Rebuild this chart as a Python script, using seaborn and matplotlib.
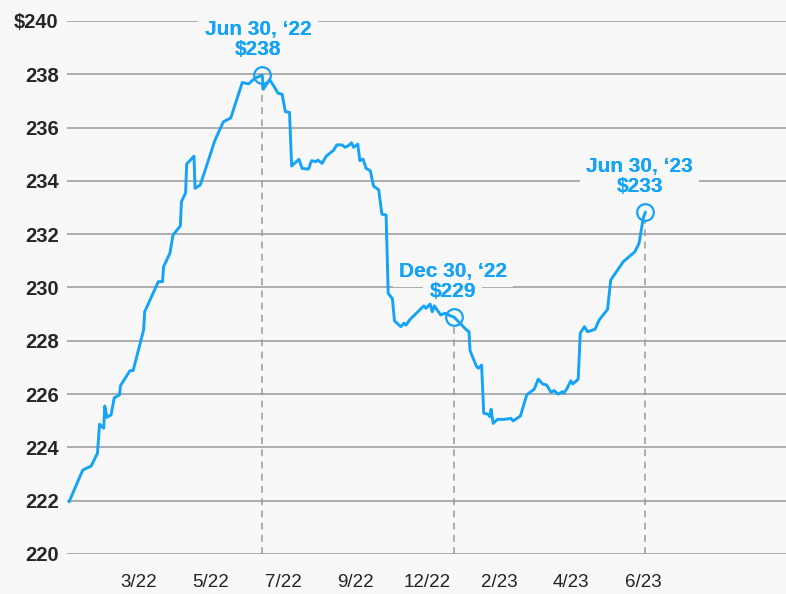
import pandas as pd
import matplotlib.pyplot as plt
import seaborn as sns
from matplotlib import font_manager

# price readings (date, $)
dates = ['2021-12-28', '2022-01-10', '2022-01-18', '2022-01-24', '2022-01-26', '2022-01-30', '2022-01-31',
         '2022-02-02', '2022-02-06', '2022-02-09', '2022-02-14', '2022-02-15', '2022-02-24', '2022-02-27',
         '2022-03-09', '2022-03-10', '2022-03-23', '2022-03-27', '2022-03-28', '2022-04-03', '2022-04-06',
         '2022-04-13', '2022-04-14', '2022-04-18', '2022-04-19', '2022-04-26', '2022-04-27', '2022-05-02',
         '2022-05-16', '2022-05-24', '2022-05-31', '2022-06-11', '2022-06-17', '2022-06-23', '2022-06-30',
         '2022-07-01', '2022-07-07', '2022-07-11', '2022-07-15', '2022-07-19', '2022-07-22', '2022-07-26',
         '2022-07-28', '2022-08-04', '2022-08-07', '2022-08-13', '2022-08-16', '2022-08-20', '2022-08-22',
         '2022-08-26', '2022-08-30', '2022-09-06', '2022-09-09', '2022-09-14', '2022-09-17', '2022-09-20',
         '2022-09-23', '2022-09-25', '2022-09-29', '2022-10-01', '2022-10-04', '2022-10-07', '2022-10-11',
         '2022-10-14', '2022-10-19', '2022-10-22', '2022-10-26', '2022-10-28', '2022-11-01', '2022-11-03',
         '2022-11-09', '2022-11-12', '2022-11-14', '2022-11-18', '2022-12-01', '2022-12-03', '2022-12-07',
         '2022-12-09', '2022-12-11', '2022-12-17', '2022-12-21', '2022-12-30', '2023-01-10', '2023-01-13',
         '2023-01-14', '2023-01-20', '2023-01-22', '2023-01-25', '2023-01-27', '2023-01-31', '2023-02-02',
         '2023-02-03', '2023-02-05', '2023-02-09', '2023-02-15', '2023-02-22', '2023-02-24', '2023-03-03',
         '2023-03-09', '2023-03-16', '2023-03-20', '2023-03-24', '2023-03-28', '2023-04-01', '2023-04-04',
         '2023-04-08', '2023-04-12', '2023-04-13', '2023-04-16', '2023-04-20', '2023-04-22', '2023-04-27',
         '2023-04-29', '2023-05-03', '2023-05-06', '2023-05-13', '2023-05-17', '2023-05-25', '2023-05-28',
         '2023-06-09', '2023-06-20', '2023-06-24', '2023-06-28', '2023-06-30']
prices = [221.96, 223.15, 223.30, 223.78, 224.87, 224.72, 225.55, 225.13, 225.22, 225.86, 225.97, 226.32,
          226.88, 226.88, 228.41, 229.09, 230.22, 230.22, 230.78, 231.28, 231.97, 232.31, 233.22, 233.55,
          234.63, 234.93, 233.72, 233.85, 235.53, 236.22, 236.36, 237.69, 237.64, 237.85, 237.97, 237.44,
          237.80, 237.56, 237.29, 237.25, 236.60, 236.57, 234.56, 234.81, 234.47, 234.44, 234.76, 234.72,
          234.78, 234.66, 234.93, 235.15, 235.35, 235.35, 235.26, 235.32, 235.43, 235.26, 235.38, 234.76,
          234.82, 234.47, 234.38, 233.81, 233.66, 232.75, 232.72, 229.78, 229.58, 228.75, 228.53, 228.66,
          228.59, 228.81, 229.31, 229.22, 229.38, 229.09, 229.31, 228.97, 229.03, 228.88, 228.43, 228.34,
          227.63, 227.05, 226.97, 227.09, 225.28, 225.25, 225.15, 225.43, 224.90, 225.05, 225.05, 225.09,
          224.99, 225.18, 225.97, 226.18, 226.56, 226.38, 226.34, 226.07, 226.13, 226.00, 226.09, 226.03,
          226.18, 226.50, 226.38, 226.56, 228.29, 228.53, 228.34, 228.43, 228.78, 229.18, 230.28, 230.97,
          231.34, 231.66, 232.60, 232.83]

# callouts
note_dates = ['2022-06-30', '2022-12-30', '2023-06-30']
note_titles = ['Jun 30, \u201822', 'Dec 30, \u201822', 'Jun 30, \u201823']
note_values = ['$238', '$229', '$233']

y_ticks = [220, 222, 224, 226, 228, 230, 232, 234, 236, 238, 240]
y_labels = ['220', '222', '224', '226', '228', '230', '232', '234', '236', '238', '$240']
x_labels = ['3/22', '5/22', '7/22', '9/22', '12/22', '2/23', '4/23', '6/23']

BG = '#f8f8f8'
BLUE = '#14a3f7'
GRID = '#999999'

df = pd.DataFrame({'date': pd.to_datetime(dates), 'price': prices})

sns.set_style('white', {'axes.facecolor': BG, 'figure.facecolor': BG})
plt.rcParams['font.family'] = ['Liberation Sans', 'DejaVu Sans']

# narrow font for the month labels if there is one
names = {f.name for f in font_manager.fontManager.ttflist}
if 'Liberation Sans Narrow' in names:
    xfont, xsize = 'Liberation Sans Narrow', 15
else:
    xfont, xsize = 'Liberation Sans', 13.5

fig = plt.figure(figsize=(7.86, 5.94), dpi=100)
ax = fig.add_axes([67 / 786, 40 / 594, 719 / 786, 533 / 594])

sns.lineplot(data=df, x='date', y='price', color=BLUE, linewidth=2.1, ax=ax, zorder=2)

ax.set_ylim(220, 240)
ax.set_xlim(pd.Timestamp('2021-12-26'), pd.Timestamp('2023-11-11'))
for s in ax.spines.values():
    s.set_visible(False)

ax.set_yticks(y_ticks)
ax.set_yticklabels(y_labels, fontweight='bold', fontsize=14.5)
ax.tick_params(axis='y', length=0, pad=6)
ax.set_axisbelow(True)
ax.grid(axis='y', color=GRID, linewidth=1.1)

# evenly spaced ticks, every other one labelled
tick_dates = pd.date_range('2021-12-26', '2023-06-28', periods=17)
ax.set_xticks(tick_dates[2::2])
ax.set_xticklabels(x_labels, family=xfont, fontsize=xsize, color='#222222')
ax.set_xticks([d for i, d in enumerate(tick_dates) if i < 2 or i % 2 == 1], minor=True)
ax.tick_params(axis='x', which='major', direction='inout', length=15, width=1.0, color='#888888', pad=7)
ax.tick_params(axis='x', which='minor', direction='inout', length=11, width=1.0, color='#c4c4c4')
ax.set_xlabel('')
ax.set_ylabel('')

box = dict(boxstyle='square,pad=0.3', fc=BG, ec='none')
offsets = [-3, -1, -4]
for d, t, v, dx in zip(note_dates, note_titles, note_values, offsets):
    x = pd.Timestamp(d)
    y = df.loc[df['date'] == x, 'price'].iloc[0]
    ax.vlines(x, 220, y - 0.3, colors='#9a9a9a', linewidth=1.1, linestyles=(0, (4.5, 3.5)), zorder=1.2)
    ax.plot([x], [y], marker='o', ms=12, mfc='none', mec=BLUE, mew=1.6, zorder=3, clip_on=False)
    # boxes knock out the gridlines, text drawn again on top of both boxes
    for txt, dy in [(t, 29), (v, 14.4)]:
        kw = dict(xytext=(dx, dy), textcoords='offset points', ha='center', va='baseline',
                  fontsize=15, fontweight='bold', color=BLUE, annotation_clip=False)
        ax.annotate(txt, (x, y), bbox=box, zorder=1, **kw)
        ax.annotate(txt, (x, y), zorder=1.1, **kw)

plt.savefig('out.png', dpi=100, facecolor=BG)
plt.close()
